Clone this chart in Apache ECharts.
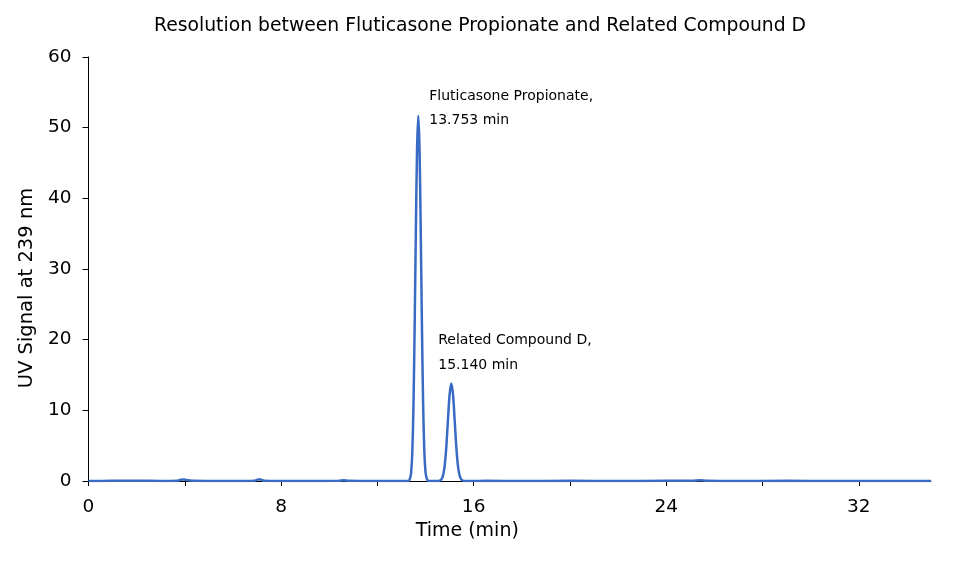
<!DOCTYPE html>
<html><head><meta charset="utf-8">
<script src="https://cdn.jsdelivr.net/npm/echarts@6/dist/echarts.min.js"></script>
<style>html,body{margin:0;padding:0;background:#fff}#c{width:960px;height:564px}</style>
</head><body><div id="c"></div>
<script>
// Chromatogram trace: time (min) and UV signal
const timeMin = [0, 1, 2, 3, 3.7, 3.9, 4.1, 4.4, 5, 6, 6.9, 7.1, 7.3, 8, 9, 10.4, 10.6, 10.8, 11.5, 12, 12.8,
  13.20, 13.25, 13.30, 13.35, 13.40, 13.45, 13.50, 13.55, 13.60, 13.65, 13.70, 13.75, 13.80, 13.85, 13.90, 13.95, 14.00, 14.05, 14.10, 14.15, 14.20,
  14.40, 14.51, 14.58, 14.65, 14.72, 14.79, 14.86, 14.93, 15.00, 15.07, 15.14, 15.21, 15.28, 15.35, 15.42, 15.49, 15.56, 15.63,
  15.9, 16.5, 18, 20, 22, 24, 25.1, 25.4, 25.7, 27, 29, 31, 33, 35];
const uvSignal = [0, 0.02, 0.03, 0.01, 0.05, 0.22, 0.12, 0.02, 0.01, 0.0, 0.05, 0.25, 0.03, 0.0, 0.01, 0.03, 0.12, 0.02, 0.0, 0.0, 0.01,
  0.0, 0.0, 0.03, 0.25, 1.1, 3.9, 10.6, 22.0, 35.6, 47.1, 51.7, 47.3, 36.0, 22.5, 11.2, 4.3, 1.3, 0.35, 0.06, 0.01, 0.0,
  0.0, 0.0, 0.04, 0.18, 0.68, 1.97, 4.6, 8.45, 12.2, 13.8, 12.35, 8.7, 4.8, 2.1, 0.75, 0.2, 0.05, 0.0,
  0.0, 0.02, 0.01, 0.02, 0.01, 0.03, 0.05, 0.12, 0.04, 0.01, 0.02, 0.01, 0.0, 0.0];
const peakNames = ['Fluticasone Propionate,', 'Related Compound D,'];
const peakTimes = [13.753, 15.140];
const peakApexTime = [13.70, 15.07];
const peakApexSignal = [51.7, 13.8];
const xTicks = [0, 4, 8, 12, 16, 20, 24, 28, 32];
const xLabels = [0, 8, 16, 24, 32];

const FONT = 'DejaVu Sans';
const chart = echarts.init(document.getElementById('c'), null, {renderer: 'canvas'});
const seriesData = timeMin.map((t, i) => [t, uvSignal[i]]);
chart.setOption({
  animation: false,
  title: {
    text: 'Resolution between Fluticasone Propionate and Related Compound D',
    left: 'center', top: 12,
    textStyle: {fontFamily: FONT, fontSize: 18.8, fontWeight: 'normal', color: '#000'}
  },
  grid: {left: 88.5, right: 29, top: 57, bottom: 83},
  xAxis: {
    type: 'value', min: 0, max: 35,
    name: 'Time (min)', nameLocation: 'middle', nameGap: 41,
    nameTextStyle: {fontFamily: FONT, fontSize: 19, color: '#000', padding: [0, 85, 0, 0]},
    axisLine: {show: true, onZero: false, lineStyle: {color: '#000', width: 1}},
    axisTick: {show: true, length: 5, customValues: xTicks, lineStyle: {color: '#000'}},
    axisLabel: {customValues: xLabels, fontFamily: FONT, fontSize: 18.5, color: '#000', margin: 17},
    splitLine: {show: false}
  },
  yAxis: {
    type: 'value', min: 0, max: 60, interval: 10,
    name: 'UV Signal at 239 nm', nameLocation: 'middle', nameGap: 37,
    nameTextStyle: {fontFamily: FONT, fontSize: 19.5, color: '#000', padding: [0, 38, 0, 0]},
    axisLine: {show: true, lineStyle: {color: '#000', width: 1}},
    axisTick: {show: true, length: 6, lineStyle: {color: '#000'}},
    axisLabel: {fontFamily: FONT, fontSize: 18.5, color: '#000', margin: 17},
    splitLine: {show: false}
  },
  series: [{
    type: 'line', data: seriesData, showSymbol: false, smooth: 0.3,
    lineStyle: {color: '#3a6bc4', width: 2.5},
    markPoint: {
      symbol: 'circle', symbolSize: 0,
      data: [
        {coord: [peakApexTime[0], peakApexSignal[0]], value: 0,
         label: {show: true, position: 'right', distance: 0, offset: [11, -7.5],
           formatter: peakNames[0] + '\n' + peakTimes[0].toFixed(3) + ' min'}},
        {coord: [peakApexTime[1], peakApexSignal[1]], value: 1,
         label: {show: true, position: 'right', distance: 0, offset: [-13, -30.5],
           formatter: peakNames[1] + '\n' + peakTimes[1].toFixed(3) + ' min'}}
      ],
      label: {fontFamily: FONT, fontSize: 14, color: '#000', lineHeight: 24.5, align: 'left'}
    }
  }]
});
</script></body></html>
